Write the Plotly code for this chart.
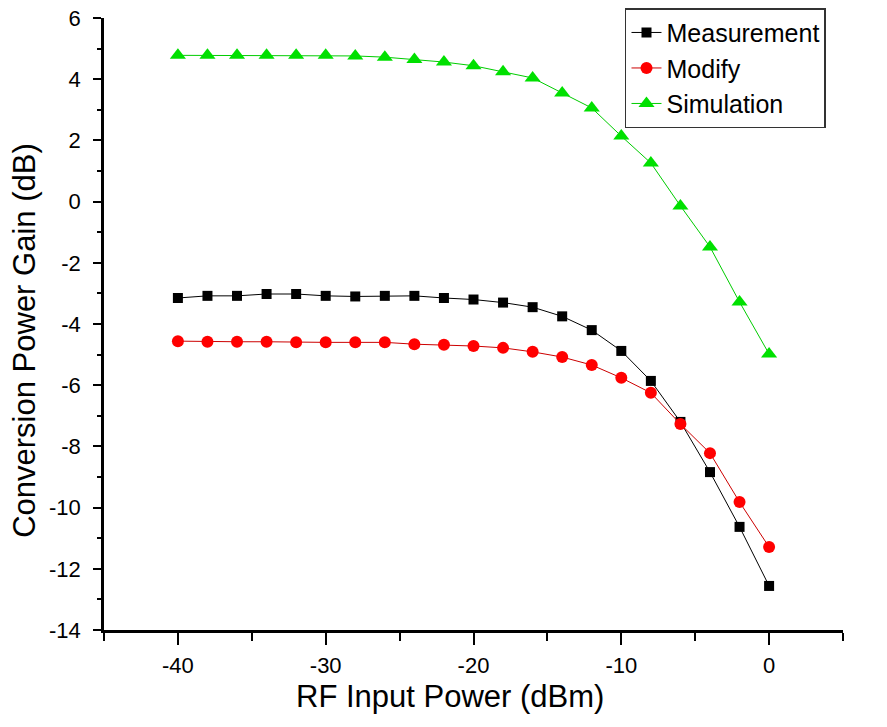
import plotly.graph_objects as go

x_dbm = [-40, -38, -36, -34, -32, -30, -28, -26, -24, -22, -20, -18, -16, -14, -12, -10, -8, -6, -4, -2, 0]
measurement = [-3.15, -3.08, -3.08, -3.02, -3.02, -3.08, -3.10, -3.08, -3.08, -3.15, -3.20, -3.30, -3.45, -3.75, -4.20, -4.88, -5.86, -7.20, -8.84, -10.63, -12.56]
modify = [-4.56, -4.58, -4.58, -4.58, -4.60, -4.60, -4.60, -4.60, -4.66, -4.68, -4.72, -4.78, -4.91, -5.08, -5.34, -5.76, -6.25, -7.27, -8.22, -9.82, -11.29]
simulation = [4.78, 4.78, 4.78, 4.78, 4.78, 4.78, 4.76, 4.72, 4.64, 4.56, 4.44, 4.24, 4.04, 3.55, 3.06, 2.14, 1.26, -0.14, -1.48, -3.28, -4.98]

x_tickvals = [-40, -30, -20, -10, 0]
x_ticktext = ["-40", "-30", "-20", "-10", "0"]
y_tickvals = [-14, -12, -10, -8, -6, -4, -2, 0, 2, 4, 6]
y_ticktext = ["-14", "-12", "-10", "-8", "-6", "-4", "-2", "0", "2", "4", "6"]
x_title = "RF Input Power (dBm)"
y_title = "Conversion Power Gain (dB)"

font = "Liberation Sans, Arial, sans-serif"

fig = go.Figure()
fig.add_trace(go.Scatter(x=x_dbm, y=measurement, name="Measurement", mode="lines+markers",
                         line=dict(color="black", width=1),
                         marker=dict(symbol="square", size=10, color="black")))
fig.add_trace(go.Scatter(x=x_dbm, y=modify, name="Modify", mode="lines+markers",
                         line=dict(color="#cc0000", width=1),
                         marker=dict(symbol="circle", size=12, color="#ff0000")))
fig.add_trace(go.Scatter(x=x_dbm, y=simulation, name="Simulation", mode="lines+markers",
                         line=dict(color="#00cc00", width=1),
                         marker=dict(symbol="triangle-up", size=14, color="#00e000")))

fig.update_layout(
    width=887, height=727,
    margin=dict(l=104, r=44, t=18, b=97, autoexpand=False),
    paper_bgcolor="white", plot_bgcolor="white",
    font=dict(family=font, color="black", size=22),
    showlegend=True,
    legend=dict(x=0.705, y=1.016, xanchor="left", yanchor="top",
                bordercolor="#333", borderwidth=1.5, bgcolor="white",
                font=dict(size=25), tracegroupgap=0),
    annotations=[
        dict(text=x_title, xref="paper", yref="paper", x=0.468, y=-0.108,
             xanchor="center", yanchor="middle", showarrow=False, font=dict(size=31)),
        dict(text=y_title, xref="paper", yref="paper", x=-0.107, y=0.474, textangle=-90,
             xanchor="center", yanchor="middle", showarrow=False, font=dict(size=31)),
    ],
)
fig.update_xaxes(range=[-45, 5], tickvals=x_tickvals, ticktext=x_ticktext,
                 showline=True, linecolor="black", linewidth=2.5,
                 ticks="outside", ticklen=12, tickwidth=2, tickcolor="black",
                 minor=dict(tickvals=[-45, -35, -25, -15, -5, 5], ticks="outside", ticklen=8, tickwidth=2, tickcolor="black"),
                 showgrid=False, zeroline=False, ticklabelstandoff=2,
                 tickfont=dict(size=22))
fig.update_yaxes(range=[-14, 6], tickvals=y_tickvals, ticktext=y_ticktext,
                 showline=True, linecolor="black", linewidth=2.5,
                 ticks="outside", ticklen=8, tickwidth=2, tickcolor="black",
                 minor=dict(dtick=1, ticks="outside", ticklen=4, tickwidth=2, tickcolor="black"),
                 showgrid=False, zeroline=False, ticklabelstandoff=8,
                 tickfont=dict(size=22))

fig.write_html("out.html")
